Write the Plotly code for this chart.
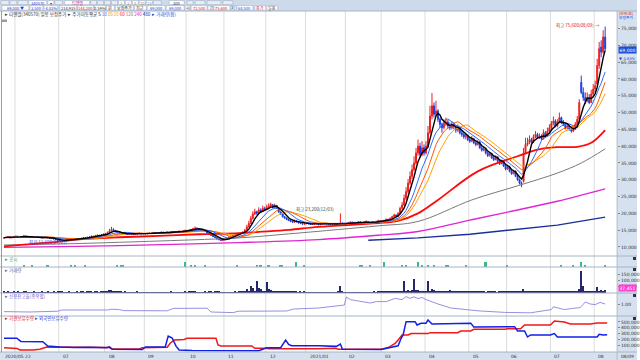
import plotly.graph_objects as go
import pandas as pd

# ---------------- DATA ----------------
lead_label = "2020/05 22"
month_labels = ["07", "08", "09", "10", "11", "12", "2021/01", "02", "03", "04", "05", "06", "07", "08"]
month_days = [6, 22, 23, 20, 21, 19, 21, 20, 20, 18, 22, 22, 19, 22, 22, 6]  # trading days: May20 .. Aug21

close = [
    12.8, 12.9, 13.1, 12.7, 12.9, 13.1,
    13.2, 13.0, 12.9, 13.1, 13.3, 13.2, 13.0, 12.8, 12.9, 13.0, 13.1, 12.9, 12.8, 12.7, 12.9, 13.0, 12.8, 12.6, 12.5, 12.4, 12.2, 12.0,
    11.8, 11.9, 12.0, 12.1, 12.2, 12.1, 12.3, 12.2, 12.4, 12.5, 12.4, 12.6, 12.8, 12.7, 12.9, 13.0, 13.2, 13.1, 13.4, 13.5, 13.3, 13.6, 13.8,
    14.0, 14.3, 14.8, 15.2, 14.9, 14.6, 14.2, 14.0, 13.9, 14.1, 13.9, 13.8, 14.0, 13.9, 13.7, 13.8, 14.0, 14.1, 13.9, 14.0,
    13.9, 14.1, 14.2, 14.0, 14.3, 14.2, 14.1, 14.3, 14.4, 14.2, 14.3, 14.4, 14.2, 14.5, 14.6, 14.4, 14.5, 14.7, 14.6, 14.8, 14.9,
    14.8, 15.0, 15.2, 15.4, 15.6, 15.5, 15.2, 15.0, 14.8, 14.6, 14.2, 13.8, 13.5, 13.1, 12.8, 12.4, 12.2, 12.0, 12.1,
    12.3, 12.6, 12.9, 13.2, 13.4, 13.6, 13.8, 13.9, 14.1, 14.4, 15.0, 16.0, 17.0, 18.5, 19.8, 20.5, 20.0, 21.0, 20.6, 21.5, 21.2,
    21.8, 22.2, 22.6, 21.8, 22.4, 21.5, 20.4, 19.8, 19.0, 18.6, 18.2, 17.9, 17.6, 17.4, 17.8, 17.5, 17.2, 17.0, 16.8, 16.9,
    17.1, 16.9, 16.7, 16.8, 17.0, 16.9, 16.6, 16.8, 17.0, 17.1, 16.9, 16.8, 16.7, 16.9, 17.0, 16.8, 16.9, 17.1, 17.0, 16.8,
    17.0, 17.2, 17.4, 17.1, 17.3, 17.2, 17.5, 17.3, 17.1, 17.4, 17.6, 17.3, 17.2, 17.5, 17.4, 17.6, 17.8, 17.5,
    17.7, 17.9, 18.2, 18.0, 18.5, 19.0, 19.5, 19.2, 20.0, 21.5, 22.5, 24.5, 26.5, 29.0, 31.0, 33.0, 35.0, 38.0, 40.0, 37.5, 39.5, 38.0,
    40.0, 44.0, 49.0, 52.0, 49.5, 50.5, 48.0, 46.5, 45.5, 46.8, 47.2, 46.0, 45.5, 46.5, 45.8, 44.8, 45.5, 44.0, 43.5, 42.8, 43.2, 42.0,
    41.5, 42.2, 41.0, 40.5, 41.2, 39.5, 38.8, 39.2, 38.0, 37.2, 37.8, 36.5, 36.0, 36.8, 35.5, 34.8, 35.5, 34.0, 33.2,
    33.8, 32.5, 31.8, 32.5, 31.0, 30.0, 29.0, 28.5, 38.0, 40.5, 41.0, 42.0, 41.2, 42.8, 43.5, 42.5, 43.0, 42.2, 44.0, 43.2, 44.5, 45.5,
    46.8, 47.5, 46.0, 47.2, 48.5, 47.0, 46.5, 45.5, 46.0, 45.0, 44.5, 45.0, 46.5, 48.0, 53.0, 56.0, 54.5, 53.5, 54.5, 53.0, 55.5, 57.0,
    58.0, 64.0, 69.0, 68.0, 72.5, 69.0]

open_ = [
    12.6, 12.8, 12.9, 13.1, 12.7, 12.9,
    13.1, 13.2, 13.0, 12.9, 13.1, 13.3, 13.2, 13.0, 12.8, 12.9, 13.0, 13.1, 12.9, 12.8, 12.7, 12.9, 13.0, 12.8, 12.6, 12.5, 12.4, 12.2,
    12.0, 11.8, 11.9, 12.0, 12.1, 12.2, 12.1, 12.3, 12.2, 12.4, 12.5, 12.4, 12.6, 12.8, 12.7, 12.9, 13.0, 13.2, 13.1, 13.4, 13.5, 13.3, 13.6,
    13.8, 14.0, 14.3, 14.8, 15.2, 14.9, 14.6, 14.2, 14.0, 13.9, 14.1, 13.9, 13.8, 14.0, 13.9, 13.7, 13.8, 14.0, 14.1, 13.9,
    14.0, 13.9, 14.1, 14.2, 14.0, 14.3, 14.2, 14.1, 14.3, 14.4, 14.2, 14.3, 14.4, 14.2, 14.5, 14.6, 14.4, 14.5, 14.7, 14.6, 14.8,
    14.9, 14.8, 15.0, 15.2, 15.4, 15.6, 15.5, 15.2, 15.0, 14.8, 14.6, 14.2, 13.8, 13.5, 13.1, 12.8, 12.4, 12.2, 12.0,
    12.1, 12.3, 12.6, 12.9, 13.2, 13.4, 13.6, 13.8, 13.9, 14.1, 14.4, 15.0, 16.0, 17.0, 18.5, 19.8, 20.5, 20.0, 21.0, 20.6, 21.5,
    21.2, 21.8, 22.2, 22.6, 21.8, 22.4, 21.5, 20.4, 19.8, 19.0, 18.6, 18.2, 17.9, 17.6, 17.4, 17.8, 17.5, 17.2, 17.0, 16.8,
    16.9, 17.1, 16.9, 16.7, 16.8, 17.0, 16.9, 16.6, 16.8, 17.0, 17.1, 16.9, 16.8, 16.7, 16.9, 17.0, 16.8, 16.9, 17.1, 17.0,
    16.8, 17.0, 17.2, 17.4, 17.1, 17.3, 17.2, 17.5, 17.3, 17.1, 17.4, 17.6, 17.3, 17.2, 17.5, 17.4, 17.6, 17.8,
    17.5, 17.7, 17.9, 18.2, 18.0, 18.5, 19.0, 19.5, 19.2, 20.0, 21.5, 22.5, 24.5, 26.5, 29.0, 31.0, 33.0, 35.0, 38.0, 40.0, 37.5, 39.5,
    38.0, 40.0, 44.0, 49.0, 52.0, 49.5, 50.5, 48.0, 46.5, 45.5, 46.8, 47.2, 46.0, 45.5, 46.5, 45.8, 44.8, 45.5, 44.0, 43.5, 42.8, 43.2,
    42.0, 41.5, 42.2, 41.0, 40.5, 41.2, 39.5, 38.8, 39.2, 38.0, 37.2, 37.8, 36.5, 36.0, 36.8, 35.5, 34.8, 35.5, 34.0,
    33.2, 33.8, 32.5, 31.8, 32.5, 31.0, 30.0, 29.0, 29.5, 38.0, 40.5, 41.0, 42.0, 41.2, 42.8, 43.5, 42.5, 43.0, 42.2, 44.0, 43.2, 44.5,
    45.5, 46.8, 47.5, 46.0, 47.2, 48.5, 47.0, 46.5, 45.5, 46.0, 45.0, 44.5, 45.0, 46.5, 48.0, 59.0, 56.0, 54.5, 53.5, 54.5, 53.0, 55.5,
    57.0, 58.5, 64.0, 69.5, 68.0, 72.5]

high = [
    12.9, 13.1, 13.3, 13.2, 13.0, 13.3,
    13.4, 13.3, 13.1, 13.2, 13.6, 13.4, 13.3, 13.1, 13.0, 13.2, 13.3, 13.2, 13.0, 12.9, 13.0, 13.2, 13.1, 12.9, 12.7, 12.6, 12.5, 12.3,
    12.1, 12.0, 12.1, 12.3, 12.3, 12.3, 12.4, 12.4, 12.5, 12.7, 12.6, 12.7, 13.0, 12.9, 13.0, 13.2, 13.4, 13.3, 13.6, 13.7, 13.6, 13.8, 14.0,
    14.2, 14.6, 15.4, 16.0, 15.6, 15.1, 14.8, 14.4, 14.2, 14.3, 14.2, 14.0, 14.2, 14.1, 14.0, 14.0, 14.2, 14.3, 14.2, 14.1,
    14.1, 14.2, 14.4, 14.3, 14.5, 14.4, 14.3, 14.4, 14.6, 14.5, 14.4, 14.6, 14.5, 14.7, 14.8, 14.7, 14.6, 14.9, 14.8, 15.0, 15.2,
    15.0, 15.2, 15.4, 15.7, 16.1, 15.8, 15.6, 15.3, 15.1, 14.9, 14.7, 14.3, 13.9, 13.6, 13.2, 12.9, 12.5, 12.3, 12.3,
    12.5, 12.8, 13.1, 13.4, 13.6, 13.8, 14.0, 14.1, 14.3, 14.7, 15.4, 16.6, 17.8, 19.2, 20.6, 21.4, 20.8, 21.8, 21.5, 22.3, 22.0,
    22.6, 23.0, 23.2, 22.8, 22.9, 22.5, 21.6, 20.6, 20.0, 19.2, 18.8, 18.4, 18.1, 17.8, 18.2, 18.0, 17.7, 17.4, 17.2, 17.2,
    17.3, 17.2, 17.0, 16.9, 17.2, 17.1, 17.0, 16.9, 17.2, 17.3, 17.2, 17.0, 16.9, 17.1, 17.2, 17.1, 17.0, 20.0, 17.3, 17.1,
    17.2, 17.4, 17.6, 17.5, 17.5, 17.4, 17.7, 17.6, 17.4, 17.6, 17.9, 17.7, 17.4, 17.7, 17.7, 17.8, 18.1, 17.9,
    17.9, 18.1, 18.5, 18.4, 18.8, 19.3, 19.9, 19.7, 20.4, 22.0, 23.4, 25.6, 27.8, 30.2, 32.5, 34.5, 37.0, 39.5, 42.0, 41.0, 41.5, 40.5,
    41.5, 46.0, 52.0, 55.8, 53.0, 53.5, 51.0, 48.5, 47.0, 48.0, 48.5, 47.8, 47.0, 47.5, 47.0, 46.2, 46.5, 45.8, 44.8, 44.2, 44.0, 43.5,
    42.8, 43.0, 42.5, 41.5, 41.8, 41.5, 40.0, 39.8, 39.6, 38.4, 38.3, 38.0, 37.0, 37.3, 37.0, 35.9, 36.0, 35.8, 34.5,
    34.5, 34.2, 33.0, 33.0, 32.8, 31.4, 30.4, 29.5, 39.5, 42.5, 42.5, 43.2, 42.5, 43.5, 44.5, 44.0, 43.8, 43.5, 45.0, 44.5, 45.5, 46.5,
    47.5, 48.8, 48.0, 48.0, 50.0, 48.8, 47.8, 47.0, 46.8, 46.5, 45.6, 45.8, 47.2, 49.0, 54.0, 61.0, 57.5, 56.0, 56.0, 55.5, 56.8, 58.5,
    59.5, 66.0, 71.0, 71.5, 74.5, 75.6]

low = [
    12.5, 12.7, 12.8, 12.6, 12.6, 12.8,
    13.0, 12.9, 12.8, 12.8, 13.0, 13.1, 12.9, 12.7, 12.7, 12.8, 12.9, 12.8, 12.7, 12.6, 12.6, 12.8, 12.7, 12.5, 12.4, 12.3, 12.1, 11.9,
    11.6, 11.7, 11.8, 11.9, 12.0, 12.0, 12.0, 12.1, 12.1, 12.3, 12.3, 12.3, 12.5, 12.6, 12.6, 12.8, 12.9, 13.0, 13.0, 13.3, 13.2, 13.2, 13.5,
    13.7, 13.9, 14.2, 14.6, 14.7, 14.4, 14.1, 13.9, 13.8, 13.8, 13.8, 13.7, 13.7, 13.8, 13.6, 13.6, 13.7, 13.9, 13.8, 13.8,
    13.8, 13.8, 14.0, 13.9, 13.9, 14.1, 14.0, 14.0, 14.2, 14.1, 14.1, 14.2, 14.1, 14.1, 14.4, 14.3, 14.3, 14.4, 14.5, 14.5, 14.7,
    14.7, 14.7, 14.9, 15.1, 15.3, 15.3, 15.1, 14.9, 14.7, 14.5, 14.1, 13.7, 13.4, 13.0, 12.7, 12.3, 12.0, 11.8, 11.9,
    12.0, 12.2, 12.5, 12.8, 13.1, 13.3, 13.5, 13.7, 13.8, 14.0, 14.3, 14.8, 15.8, 16.8, 18.2, 19.5, 19.6, 19.8, 20.2, 20.4, 20.8,
    21.0, 21.5, 21.9, 21.5, 21.6, 21.3, 20.2, 19.5, 18.8, 18.4, 18.0, 17.7, 17.4, 17.2, 17.3, 17.3, 17.0, 16.8, 16.6, 16.7,
    16.8, 16.8, 16.6, 16.6, 16.7, 16.8, 16.5, 16.5, 16.7, 16.9, 16.8, 16.7, 16.6, 16.6, 16.8, 16.7, 16.7, 16.8, 16.9, 16.7,
    16.7, 16.9, 17.1, 17.0, 17.0, 17.1, 17.1, 17.2, 17.0, 17.0, 17.3, 17.2, 17.1, 17.1, 17.3, 17.3, 17.5, 17.4,
    17.4, 17.6, 17.8, 17.8, 17.9, 18.3, 18.8, 19.0, 19.0, 19.8, 21.2, 22.2, 24.0, 26.0, 28.5, 30.2, 32.5, 34.5, 37.2, 36.5, 37.0, 37.2,
    37.5, 39.5, 43.5, 48.0, 48.5, 48.8, 47.2, 45.5, 44.0, 45.0, 46.0, 45.2, 44.8, 45.0, 45.0, 44.0, 44.2, 43.5, 42.8, 42.2, 42.0, 41.5,
    41.0, 41.2, 40.6, 40.0, 40.2, 39.2, 38.4, 38.5, 37.6, 36.8, 36.9, 36.2, 35.6, 35.8, 35.2, 34.4, 34.6, 33.8, 32.8,
    33.0, 32.2, 31.5, 31.6, 30.8, 29.7, 28.6, 27.8, 29.2, 37.5, 40.0, 40.6, 41.0, 41.0, 42.4, 42.2, 42.2, 41.8, 42.0, 42.8, 43.0, 44.2,
    45.0, 46.2, 45.6, 45.6, 46.8, 46.6, 46.0, 45.0, 45.0, 44.6, 44.0, 44.2, 44.8, 46.0, 47.5, 55.5, 53.5, 52.5, 53.0, 52.5, 52.8, 55.0,
    56.0, 58.0, 63.0, 66.5, 67.5, 68.5]

volume = [
    9, 8, 10, 7, 8, 9,
    8, 9, 7, 8, 10, 9, 8, 7, 8, 9, 8, 7, 8, 9, 7, 8, 9, 8, 7, 9, 8, 10,
    12, 9, 8, 7, 8, 9, 8, 7, 8, 9, 8, 10, 9, 8, 9, 10, 9, 8, 10, 9, 8, 10, 12,
    15, 18, 24, 28, 20, 14, 12, 10, 9, 8, 9, 8, 7, 8, 7, 8, 9, 7, 8, 7,
    6, 7, 6, 8, 7, 6, 7, 6, 7, 8, 6, 7, 6, 20, 8, 7, 6, 7, 8, 7, 9,
    8, 9, 10, 9, 12, 8, 7, 8, 7, 9, 8, 10, 9, 8, 10, 12, 9, 8, 7,
    7, 8, 8, 7, 8, 9, 8, 9, 10, 10, 12, 30, 15, 55, 40, 20, 100, 40, 30, 20, 15,
    92, 30, 25, 18, 15, 20, 15, 12, 11, 10, 12, 10, 9, 11, 10, 9, 8, 9, 8, 9,
    8, 7, 8, 7, 6, 7, 8, 7, 6, 7, 8, 7, 6, 7, 8, 7, 9, 57, 15, 8,
    7, 8, 7, 6, 7, 8, 7, 6, 7, 8, 7, 6, 7, 8, 9, 8, 10, 9,
    10, 11, 12, 10, 13, 12, 14, 12, 13, 10, 12, 95, 18, 25, 15, 22, 115, 28, 25, 18, 12, 15,
    14, 95, 20, 35, 25, 18, 15, 12, 11, 13, 12, 12, 22, 11, 13, 12, 10, 11, 12, 10, 11, 10,
    10, 9, 11, 10, 9, 12, 10, 9, 8, 10, 9, 11, 10, 9, 8, 10, 9, 11, 12,
    10, 11, 9, 10, 12, 11, 18, 14, 30, 18, 12, 11, 10, 9, 10, 11, 9, 10, 12, 10, 11, 10,
    12, 20, 11, 10, 12, 11, 10, 9, 10, 11, 10, 9, 12, 14, 30, 175, 55, 15, 12, 11, 10, 12,
    14, 48, 15, 28, 20, 22]

event_idx = [10, 14, 22, 34, 36, 41, 57, 59, 60, 91, 94, 96, 101, 117, 127, 129, 133, 139, 140, 147, 151,
             179, 180, 184, 191, 200, 202, 208, 210, 213, 216, 222, 223, 232, 242, 253, 280, 286, 290, 292, 302]
event_val = [2, 2, 2, 2, 2, 2, 2, 2, 2, 5, 2, 2, 2, 2, 2, 2, 2, 2, 2, 5, 2,
             2, 2, 2, 5, 2, 2, 5, 2, 2, 2, 2, 2, 2, 5, 2, 2, 2, 5, 2, 2]

# long moving averages (need history before the visible range)
ma60_x = [0, 10, 20, 28, 38, 58, 78, 98, 118, 128, 143, 158, 188, 198, 208, 218, 238, 258, 268, 278, 288, 295, 302]
ma60_y = [10.2, 10.7, 11.2, 11.6, 12.3, 12.9, 13.3, 13.8, 14.1, 14.5, 15.1, 16.0, 17.1, 17.8, 20.0, 24.0, 32.5, 37.0, 39.0, 39.7, 39.8, 41.0, 44.8]
ma120_x = [0, 28, 58, 98, 118, 143, 168, 188, 208, 235, 258, 278, 290, 302]
ma120_y = [10.6, 10.9, 11.4, 12.2, 12.7, 13.9, 15.2, 16.3, 17.6, 24.0, 28.2, 32.0, 35.0, 39.2]
ma240_x = [0, 28, 58, 118, 158, 188, 208, 234, 258, 278, 302]
ma240_y = [9.9, 10.1, 10.4, 11.3, 12.2, 13.5, 14.6, 18.0, 21.0, 23.6, 27.3]
ma480_x = [183, 208, 234, 258, 278, 302]
ma480_y = [12.0, 12.7, 13.8, 15.2, 16.5, 18.9]

credit_x = [0, 13, 27, 29, 52, 54, 58, 60, 82, 85, 102, 104, 115, 118, 142, 145.5, 158, 171, 172, 174, 178, 182, 184, 187,
            192, 196.5, 200, 202, 204, 206, 208, 210, 212, 218, 224.5, 238, 251.5, 264.5, 273, 275, 276, 279, 281.5,
            285.5, 289.5, 292, 294.5, 297, 299.5, 302]
credit_y = [0.62, 0.60, 0.64, 0.70, 0.70, 0.74, 0.72, 0.67, 0.66, 0.78, 0.79, 0.60, 0.57, 0.64, 0.65, 0.75, 0.80, 0.95, 1.35, 1.22,
            1.15, 1.10, 1.05, 1.12, 1.12, 1.28, 1.22, 1.37, 1.28, 1.36, 1.27, 1.33, 1.22, 1.00, 0.80, 0.66, 0.58, 0.56, 0.68,
            0.72, 0.86, 0.78, 0.72, 0.78, 0.82, 1.10, 1.00, 0.97, 1.08, 1.00]

foreign_x = [0, 6.5, 7.5, 8.5, 19.5, 21, 22, 28, 35.5, 43, 51.5, 53, 54.5, 69.5, 71, 81, 82.5, 84.5, 86.5, 88, 94.5, 128, 130, 132,
             139, 140.5, 141.5, 143, 144.5, 158, 164.5, 167, 169, 170, 189.5, 197, 198, 199.5, 200.5, 202, 206.5, 207.5,
             209.5, 212, 213, 215, 228, 234.5, 236, 256.5, 258, 261.5, 263, 264.5, 274.5, 276.5, 278, 298, 299, 301, 303]
foreign_y = [219, 219, 190, 165, 160, 120, 86, 70, 60, 65, 55, 70, 30, 25, 70, 70, 258, 224, 80, 17, 8, 5, 35, 57,
             57, 150, 190, 115, 90, 91, 91, 80, 120, 30, 25, 75, 90, 220, 276, 505, 505, 448,
             477, 477, 534, 465, 480, 480, 414, 420, 345, 345, 241, 276, 276, 300, 241, 241, 287, 276, 280]
inst_x = [0, 6.5, 8, 14.5, 18, 21.5, 53, 54, 68, 69.5, 82, 83.5, 85.5, 90.5, 92, 106.5, 107.5, 109, 124.5, 126, 131.5, 133, 158,
          166.5, 168, 189.5, 193, 196.5, 198, 200, 203, 204.5, 213, 214, 228, 229.5, 234.5, 236, 251.5, 253, 259.5, 261.5,
          274.5, 276.5, 281.5, 284.5, 294.5, 298, 303]
inst_y = [57, 45, 17, 17, 30, 70, 60, 35, 35, 55, 65, 133, 190, 200, 219, 219, 103, 86, 86, 46, 46, 40, 40,
          46, 30, 30, 60, 130, 190, 276, 276, 300, 300, 316, 316, 345, 345, 374, 374, 384, 384, 448,
          448, 517, 500, 465, 465, 483, 483]

# ---------------- HELPERS ----------------
N = len(close)
xs = list(range(N))
cs = pd.Series(close)
ma5 = cs.rolling(5, min_periods=1).mean()
ma10 = cs.rolling(10, min_periods=1).mean()
ma15 = cs.rolling(15, min_periods=1).mean()
ma20 = cs.rolling(20, min_periods=1).mean()

starts = []
acc = 0
for d in month_days:
    starts.append(acc)
    acc += d
month_starts = starts[1:]          # June 2020 ... Aug 2021


def PX(x):
    return x / 640.0


def PY(y):
    return 1 - y / 360.0


RED = "#f21d1d"
BLUE = "#1c3fe0"
KFONT = "Noto Sans CJK KR"
NFONT = "DejaVu Sans"

fig = go.Figure()

# candles
fig.add_trace(go.Candlestick(
    x=xs, open=open_, high=high, low=low, close=close,
    increasing=dict(line=dict(color=RED, width=1), fillcolor=RED),
    decreasing=dict(line=dict(color=BLUE, width=1), fillcolor=BLUE),
    whiskerwidth=0, xaxis="x", yaxis="y", hoverinfo="skip"))

# moving averages
fig.add_trace(go.Scatter(x=ma480_x, y=ma480_y, mode="lines", line=dict(color="#1a2f9c", width=1.4), yaxis="y"))
fig.add_trace(go.Scatter(x=ma240_x, y=ma240_y, mode="lines", line=dict(color="#e026d0", width=1.4, shape="spline"), yaxis="y"))
fig.add_trace(go.Scatter(x=ma120_x, y=ma120_y, mode="lines", line=dict(color="#7a7a7a", width=1, shape="spline"), yaxis="y"))
fig.add_trace(go.Scatter(x=ma60_x, y=ma60_y, mode="lines", line=dict(color="#ff0a0a", width=1.8, shape="spline"), yaxis="y"))
fig.add_trace(go.Scatter(x=xs, y=ma20, mode="lines", line=dict(color="#ffa200", width=1), yaxis="y"))
fig.add_trace(go.Scatter(x=xs, y=ma15, mode="lines", line=dict(color="#ff5a00", width=1), yaxis="y"))
fig.add_trace(go.Scatter(x=xs, y=ma10, mode="lines", line=dict(color="#2a6cff", width=1), yaxis="y"))
fig.add_trace(go.Scatter(x=xs, y=ma5, mode="lines", line=dict(color="#000000", width=1.4), yaxis="y"))

# events
fig.add_trace(go.Bar(x=event_idx, y=event_val, marker=dict(color="#3cb887", line=dict(width=0)), width=0.8, yaxis="y2"))
# volume
fig.add_trace(go.Bar(x=xs, y=volume, marker=dict(color="#26266e", line=dict(width=0)), width=0.7, yaxis="y3"))
# credit ratio
fig.add_trace(go.Scatter(x=credit_x, y=credit_y, mode="lines", line=dict(color="#9a8ee0", width=1), yaxis="y4"))
# holdings
fig.add_trace(go.Scatter(x=inst_x, y=inst_y, mode="lines", line=dict(color="#f01818", width=1.5), yaxis="y5"))
fig.add_trace(go.Scatter(x=foreign_x, y=foreign_y, mode="lines", line=dict(color="#1020e8", width=1.5), yaxis="y5"))

axfont = dict(family=NFONT, size=4.5, color="#333")
common_y = dict(anchor="x", side="right", showgrid=False, zeroline=False, ticks="outside", ticklen=2,
                tickcolor="#888", tickfont=axfont, showline=False, fixedrange=True)

price_ticks = [10, 15, 20, 25, 30, 35, 40, 45, 50, 55, 60, 65, 70, 75]
fig.update_layout(
    width=640, height=360, margin=dict(l=0, r=0, t=0, b=0),
    paper_bgcolor="white", plot_bgcolor="white", showlegend=False, bargap=0,
    xaxis=dict(domain=[PX(2), PX(620)], range=[-1, 308], showgrid=False, zeroline=False,
               showticklabels=False, ticks="", anchor="y5", rangeslider=dict(visible=False)),
    yaxis=dict(domain=[PY(256), PY(11)], range=[7.32, 80.23], tickvals=price_ticks,
               ticktext=[f"{v*1000:,}" for v in price_ticks], **common_y),
    yaxis2=dict(domain=[PY(267), PY(256)], range=[0, 11], showticklabels=False, anchor="x",
                side="right", showgrid=False, zeroline=False),
    yaxis3=dict(domain=[PY(293), PY(267)], range=[0, 210], tickvals=[50, 100, 150],
                ticktext=["50,000", "100,000", "150,000"], **common_y),
    yaxis4=dict(domain=[PY(316), PY(293)], range=[0.4, 1.55], tickvals=[1.0], ticktext=["1.00"], **common_y),
    yaxis5=dict(domain=[PY(352), PY(316)], range=[-17, 603], tickvals=[100, 200, 300, 400, 500],
                ticktext=["100,000", "200,000", "300,000", "400,000", "500,000"], **common_y),
)

shapes = []
# header band, right axis panel, bottom strip
shapes.append(dict(type="rect", xref="paper", yref="paper", x0=0, x1=1, y0=PY(11), y1=1,
                   fillcolor="#cddaea", line=dict(width=0), layer="below"))
shapes.append(dict(type="rect", xref="paper", yref="paper", x0=PX(620), x1=1, y0=0, y1=PY(11),
                   fillcolor="#d6e1ef", line=dict(width=0), layer="below"))
shapes.append(dict(type="rect", xref="paper", yref="paper", x0=0, x1=1, y0=0, y1=PY(352),
                   fillcolor="#d6e1ef", line=dict(width=0), layer="below"))
# month gridlines
for s in month_starts:
    shapes.append(dict(type="line", xref="x", yref="paper", x0=s - 0.5, x1=s - 0.5, y0=PY(352), y1=PY(11),
                       line=dict(color="#dcdcdc", width=1), layer="below"))
# panel separators
for yy in [11, 256, 267, 293, 316, 352]:
    shapes.append(dict(type="line", xref="paper", yref="paper", x0=0, x1=1, y0=PY(yy), y1=PY(yy),
                       line=dict(color="#a8b4c4", width=1)))
shapes.append(dict(type="line", xref="paper", yref="paper", x0=PX(620), x1=PX(620), y0=0, y1=PY(11),
                   line=dict(color="#b0bccc", width=1)))
shapes.append(dict(type="line", xref="paper", yref="paper", x0=PX(1.5), x1=PX(1.5), y0=PY(352), y1=PY(11),
                   line=dict(color="#9a9a9a", width=1)))
# small panel buttons on right edge
for yy in [257, 268, 294, 317]:
    shapes.append(dict(type="rect", xref="paper", yref="paper", x0=PX(636), x1=PX(639), y0=PY(yy + 3), y1=PY(yy),
                       fillcolor="#333", line=dict(width=0)))

# header widgets (row, x0, x1, text, color)
header = [
    (1, 1, 9, "", "#888"), (1, 10, 17, "", "#888"), (1, 18, 28, "", "#888"),
    (1, 29, 47, "340570", "#1c3fe0"), (1, 48, 54, "▾", "#333"), (1, 55, 63, "", "#888"),
    (1, 65, 90, "티앤엘", "#d0208a"), (1, 91, 97, "", "#2a60d0"), (1, 98, 104, "", "#888"),
    (1, 105, 111, "", "#888"), (1, 112, 118, "", "#888"), (1, 119, 125, "1", "#888"),
    (1, 126, 132, "3", "#888"), (1, 133, 139, "5", "#888"), (1, 140, 146, "10", "#888"),
    (1, 147, 153, "15", "#888"), (1, 154, 162, "", "#888"), (1, 170, 185, "300", "#333"),
    (1, 188, 194, "", "#888"), (1, 196, 206, "", "#888"), (1, 208, 222, "", "#888"), (1, 224, 234, "", "#888"),
    (2, 2, 29, "69,000 ▼", "#1c3fe0"), (2, 30, 43, "3,500", "#1c3fe0"), (2, 44, 58, "-4.83%", "#1c3fe0"),
    (2, 60, 77, "214,935", "#333"), (2, 78, 94, "144,200", "#e01010"), (2, 95, 106, "2.59%", "#333"),
    (2, 107, 115, "원", "#333"), (2, 116, 134, "보정주가", "#333"), (2, 135, 147, "최근", "#333"),
    (2, 148, 166, "69,000", "#1c3fe0"), (2, 167, 185, "69,000", "#1c3fe0"), (2, 186, 191, "시", "#333"),
    (2, 192, 208, "72,500", "#e01010"), (2, 209, 214, "고", "#333"), (2, 215, 231, "75,600", "#e01010"),
    (2, 232, 237, "저", "#333"), (2, 238, 254, "68,500", "#1c3fe0"), (2, 256, 267, "종가", "#c03060"),
    (2, 268, 279, "일봉", "#333"),
]
annotations = []
for row, x0, x1, txt, col in header:
    y0, y1 = (0.6, 4.6) if row == 1 else (5.6, 10.2)
    fill = "#ffffff" if txt else "#e6edf6"
    shapes.append(dict(type="rect", xref="paper", yref="paper", x0=PX(x0), x1=PX(x1), y0=PY(y1), y1=PY(y0),
                       fillcolor=fill, line=dict(color="#9aa8bb", width=0.5)))
    if txt:
        annotations.append(dict(x=PX((x0 + x1) / 2), y=PY((y0 + y1) / 2), xref="paper", yref="paper",
                                text=txt, showarrow=False, font=dict(family=KFONT, size=4, color=col),
                                xanchor="center", yanchor="middle"))

# legend line
legend_html = ("<span style='color:#333'>▸ 티앤엘(340570) 일봉 보정주가</span>  "
               "<span style='color:#333'>▸ 주가이동평균</span> "
               "<span style='color:#000'>5</span> <span style='color:#2a6cff'>10</span> "
               "<span style='color:#ff5a00'>15</span> <span style='color:#ffa200'>20</span> "
               "<span style='color:#ff0a0a'>60</span> <span style='color:#7a7a7a'>120</span> "
               "<span style='color:#e026d0'>240</span> <span style='color:#1a2f9c'>480</span>  "
               "<span style='color:#1c3fe0'>▸ 거래량(합)</span>")
annotations.append(dict(x=PX(3), y=PY(15), xref="paper", yref="paper", text=legend_html, showarrow=False,
                        font=dict(family=KFONT, size=4.5, color="#333"), xanchor="left", yanchor="middle"))
shapes.append(dict(type="rect", xref="paper", yref="paper", x0=PX(2), x1=PX(7), y0=PY(22), y1=PY(19.5),
                   fillcolor="#9a9a9a", line=dict(width=0)))
annotations.append(dict(x=PX(629), y=PY(13.5), xref="paper", yref="paper", text="(단위:원)", showarrow=False,
                        font=dict(family=KFONT, size=3.8, color="#e01010"), xanchor="center", yanchor="middle"))
annotations.append(dict(x=PX(629), y=PY(17.5), xref="paper", yref="paper", text="보정주가", showarrow=False,
                        font=dict(family=KFONT, size=3.8, color="#1c3fe0"), xanchor="center", yanchor="middle"))

# panel labels
annotations.append(dict(x=PX(3), y=PY(258.5), xref="paper", yref="paper", text="▸ 공시", showarrow=False,
                        font=dict(family=KFONT, size=4.5, color="#2f9f70"), xanchor="left", yanchor="middle"))
annotations.append(dict(x=PX(3), y=PY(270), xref="paper", yref="paper", text="▸ 거래량", showarrow=False,
                        font=dict(family=KFONT, size=4.5, color="#5a6aa0"), xanchor="left", yanchor="middle"))
annotations.append(dict(x=PX(3), y=PY(296.5), xref="paper", yref="paper", text="▸ 신용잔고율(종목별)", showarrow=False,
                        font=dict(family=KFONT, size=4.5, color="#6a5ac8"), xanchor="left", yanchor="middle"))
annotations.append(dict(x=PX(3), y=PY(318.5), xref="paper", yref="paper",
                        text="<span style='color:#e01010'>▸ 기관보유수량</span> <span style='color:#1c3fe0'>▸ 외국인보유수량</span>",
                        showarrow=False, font=dict(family=KFONT, size=4.5), xanchor="left", yanchor="middle"))

# price annotations
annotations.append(dict(x=300.5, y=76.0, xref="x", yref="y", text="최고 75,600(08/09) →", showarrow=False,
                        font=dict(family=KFONT, size=4.5, color="#e01010"), xanchor="right", yanchor="middle"))
annotations.append(dict(x=11.5, y=11.2, xref="x", yref="y", text="최저 11,600(07/01)", showarrow=False,
                        font=dict(family=KFONT, size=4.5, color="#1c3fe0"), xanchor="left", yanchor="middle"))
annotations.append(dict(x=145.5, y=21.3, xref="x", yref="y", text="최고 23,200(12/03)", showarrow=False,
                        font=dict(family=KFONT, size=4.5, color="#444"), xanchor="left", yanchor="middle"))

# current value boxes on the right axis
annotations.append(dict(x=PX(630), y=PY(46.5), xref="paper", yref="paper", text=f"{int(close[-1]*1000):,}",
                        showarrow=False, bgcolor="#1a4fd6", font=dict(family=NFONT, size=4.5, color="white"),
                        xanchor="center", yanchor="top", borderpad=0.5))
annotations.append(dict(x=PX(630), y=PY(53.5), xref="paper", yref="paper", text="▼ 4.83%",
                        showarrow=False, font=dict(family=NFONT, size=3.8, color="#1c3fe0"),
                        xanchor="center", yanchor="top"))
annotations.append(dict(x=PX(630), y=37, xref="paper", yref="y3", text="37,451", showarrow=False,
                        bgcolor="#ff3fd2", font=dict(family=NFONT, size=4.5, color="white"),
                        xanchor="center", yanchor="middle", borderpad=0.5))

# x labels
annotations.append(dict(x=PX(3), y=PY(356), xref="paper", yref="paper", text=lead_label, showarrow=False,
                        font=dict(family=NFONT, size=4.5, color="#333"), xanchor="left", yanchor="middle"))
for s, lab in zip(month_starts[1:], month_labels):
    annotations.append(dict(x=s + 0.5, y=PY(356), xref="x", yref="paper", text=lab, showarrow=False,
                            font=dict(family=NFONT, size=4.5, color="#333"), xanchor="left", yanchor="middle"))
annotations.append(dict(x=PX(630), y=PY(356), xref="paper", yref="paper", text="08/09", showarrow=False,
                        font=dict(family=NFONT, size=4.5, color="#333"), xanchor="center", yanchor="middle"))

fig.update_layout(shapes=shapes, annotations=annotations)
fig.write_html("out.html")
